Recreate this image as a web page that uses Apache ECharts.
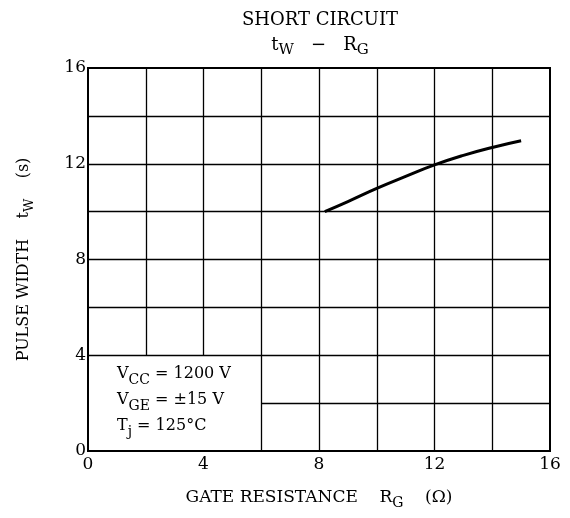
<!DOCTYPE html>
<html><head><meta charset="utf-8">
<script src="https://cdn.jsdelivr.net/npm/echarts@6/dist/echarts.min.js"></script>
<style>html,body{margin:0;padding:0;background:#fff}#c{width:570px;height:518px}</style>
</head><body><div id="c"></div>
<script>
var rgValues = [8.2, 9, 10, 11, 12, 13, 14, 15];
var twValues = [10.0, 10.42, 10.97, 11.47, 11.95, 12.35, 12.68, 12.96];
var xTicks = [0, 2, 4, 6, 8, 10, 12, 14, 16];
var yTicks = [0, 2, 4, 6, 8, 10, 12, 14, 16];
var xLabelTicks = [0, 4, 8, 12, 16];
var yLabelTicks = [0, 4, 8, 12, 16];
var boxX = 6, boxY = 4;
var conditions = ['{n|V}{sub|CC}{n| = 1200 V}', '{n|V}{sub|GE}{n| = \u00b115 V}', '{n|T}{sub|j}{n| = 125\u00b0C}'];

var FONT = 'DejaVu Serif';
var chart = echarts.init(document.getElementById('c'));

var segs = [];
xTicks.forEach(function (x) {
  if (x <= 0 || x >= 16) return;
  segs.push([{coord: [x, x < boxX ? boxY : 0]}, {coord: [x, 16]}]);
});
yTicks.forEach(function (y) {
  if (y <= 0 || y >= 16) return;
  segs.push([{coord: [y < boxY ? boxX : 0, y]}, {coord: [16, y]}]);
});

var richBase = {
  n: {fontFamily: FONT, fontSize: 17, color: '#000', lineHeight: 24, verticalAlign: 'middle'},
  sub: {fontFamily: FONT, fontSize: 14, color: '#000', lineHeight: 14, verticalAlign: 'bottom'}
};

chart.setOption({
  animation: false,
  backgroundColor: '#fff',
  title: {
    text: 'SHORT CIRCUIT',
    subtext: '{n|t}{sub|W}{n|   \u2212   R}{sub|G}',
    left: 315, textAlign: 'center', top: 6,
    itemGap: 3,
    textStyle: {fontFamily: FONT, fontSize: 18, fontWeight: 'normal', color: '#000'},
    subtextStyle: {rich: {
      n: {fontFamily: FONT, fontSize: 18, color: '#000', lineHeight: 26, verticalAlign: 'middle'},
      sub: {fontFamily: FONT, fontSize: 15, color: '#000', lineHeight: 15, verticalAlign: 'bottom'}
    }}
  },
  grid: {left: 88, right: 20, top: 68, bottom: 67, show: true, borderColor: '#000', borderWidth: 2, backgroundColor: 'transparent'},
  xAxis: {
    type: 'value', min: 0, max: 16, interval: 2,
    axisLine: {show: true, lineStyle: {color: '#000', width: 2}},
    axisTick: {show: false},
    splitLine: {show: false},
    axisLabel: {
      margin: 5, color: '#000', fontFamily: FONT, fontSize: 17,
      formatter: function (v) { return xLabelTicks.indexOf(v) >= 0 ? String(v) : ''; }
    },
    name: '{n|GATE RESISTANCE    R}{sub|G}{n|    (\u03a9)}',
    nameLocation: 'middle', nameGap: 35,
    nameTextStyle: {rich: richBase}
  },
  yAxis: {
    type: 'value', min: 0, max: 16, interval: 2,
    axisLine: {show: true, lineStyle: {color: '#000', width: 2}},
    axisTick: {show: false},
    splitLine: {show: false},
    axisLabel: {
      margin: 2, color: '#000', fontFamily: FONT, fontSize: 17,
      formatter: function (v) { return yLabelTicks.indexOf(v) >= 0 ? String(v) : ''; }
    },
    name: '{n|PULSE WIDTH    t}{sub|W}{n|    (s)}',
    nameLocation: 'middle', nameGap: 52, nameRotate: 90,
    nameTextStyle: {rich: {
      n: {fontFamily: FONT, fontSize: 16, color: '#000', lineHeight: 24, verticalAlign: 'middle'},
      sub: {fontFamily: FONT, fontSize: 13, color: '#000', lineHeight: 13, verticalAlign: 'bottom'}
    }}
  },
  series: [{
    type: 'line', data: [], silent: true,
    markLine: {
      silent: true, symbol: 'none', animation: false,
      label: {show: false},
      lineStyle: {color: '#000', width: 1.3, type: 'solid'},
      data: segs
    }
  }, {
    type: 'line', smooth: true, symbol: 'none', silent: true,
    lineStyle: {color: '#000', width: 3},
    data: rgValues.map(function (x, i) { return [x, twValues[i]]; }),
    z: 5
  }],
  graphic: [{
    type: 'text', left: 117, top: 366,
    style: {
      text: conditions.join('\n'),
      rich: {
        n: {fontFamily: FONT, fontSize: 16, color: '#000', lineHeight: 26, verticalAlign: 'middle'},
        sub: {fontFamily: FONT, fontSize: 14, color: '#000', lineHeight: 14, verticalAlign: 'bottom'}
      },
      fill: '#000'
    }
  }]
});
</script></body></html>
